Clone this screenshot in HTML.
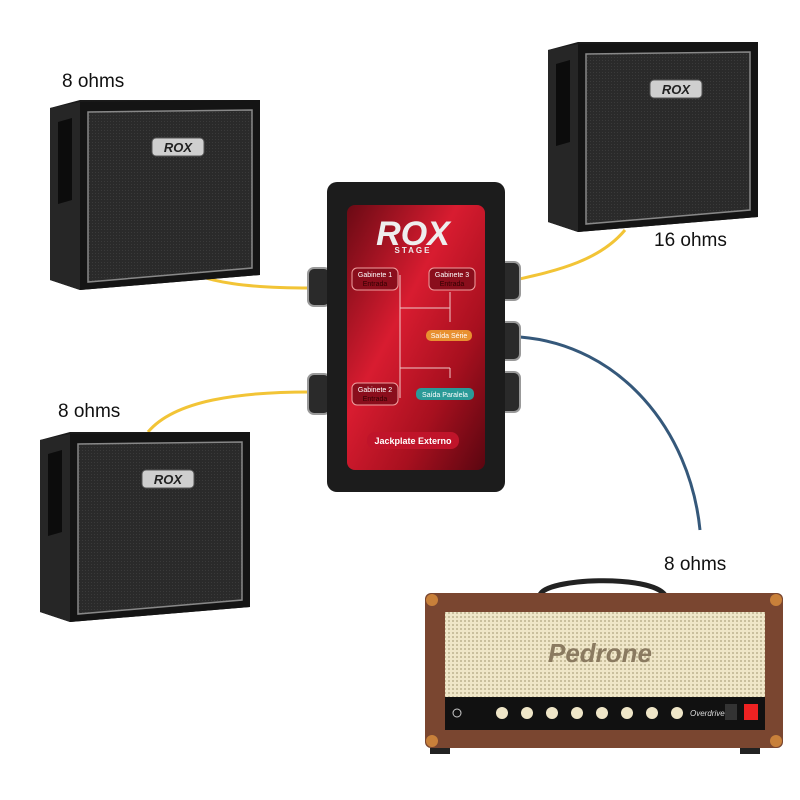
<!DOCTYPE html>
<html><head><style>
html,body{margin:0;padding:0;background:#fff;width:800px;height:800px;overflow:hidden}
text{font-family:"Liberation Sans",sans-serif}
</style></head><body>
<svg width="800" height="800" viewBox="0 0 800 800" xmlns="http://www.w3.org/2000/svg">
<defs>
<pattern id="grill" width="3" height="3" patternUnits="userSpaceOnUse"><rect width="3" height="3" fill="#2a2a2a"/><rect width="1" height="1" fill="#3a3a3a"/></pattern>
<pattern id="cane" width="4" height="4" patternUnits="userSpaceOnUse"><rect width="4" height="4" fill="#efe6c8"/><rect width="2" height="2" fill="#c9bf9d"/></pattern>
<linearGradient id="red" x1="0" y1="0" x2="1" y2="1"><stop offset="0" stop-color="#6a0a14"/><stop offset="0.4" stop-color="#d81c30"/><stop offset="0.7" stop-color="#a8101f"/><stop offset="1" stop-color="#5a0610"/></linearGradient>
<g id="cab">
<polygon points="0,8 30,0 210,0 210,175 30,190 0,180" fill="#1a1a1a"/>
<polygon points="0,8 30,2 30,190 0,180" fill="#262626"/>
<polygon points="8,22 22,18 22,100 8,104" fill="#0c0c0c"/>
<polygon points="30,2 210,0 210,175 30,190" fill="#141414"/>
<polygon points="38,12 202,10 202,168 38,182" fill="url(#grill)" stroke="#888" stroke-width="1.5"/>
<rect x="102" y="38" width="52" height="18" rx="4" fill="#cfcfcf" stroke="#555"/>
<text x="128" y="52" font-size="13" font-weight="bold" font-style="italic" fill="#222" text-anchor="middle">ROX</text>
</g>
</defs>
<!-- cables -->
<path d="M172,262 C200,285 260,288 310,288" stroke="#f2c436" stroke-width="3" fill="none"/>
<path d="M148,432 C175,400 240,392 310,392" stroke="#f2c436" stroke-width="3" fill="none"/>
<path d="M515,280 C560,270 600,260 625,230" stroke="#f2c436" stroke-width="3" fill="none"/>
<path d="M520,337 C620,345 690,430 700,530" stroke="#35587a" stroke-width="3" fill="none"/>
<!-- cabinets -->
<use href="#cab" x="50" y="100"/>
<use href="#cab" x="40" y="432"/>
<use href="#cab" x="548" y="42"/>
<!-- labels -->
<text x="62" y="87" font-size="19" fill="#111">8 ohms</text>
<text x="654" y="246" font-size="19" fill="#111">16 ohms</text>
<text x="58" y="417" font-size="19" fill="#111">8 ohms</text>
<text x="664" y="570" font-size="19" fill="#111">8 ohms</text>
<!-- jacks -->
<g fill="#2a2a2a" stroke="#999" stroke-width="2">
<rect x="308" y="268" width="22" height="38" rx="6"/>
<rect x="308" y="374" width="22" height="40" rx="6"/>
<rect x="498" y="262" width="22" height="38" rx="6"/>
<rect x="498" y="322" width="22" height="38" rx="6"/>
<rect x="498" y="372" width="22" height="40" rx="6"/>
</g>
<!-- box -->
<rect x="327" y="182" width="178" height="310" rx="10" fill="#1c1c1c"/>
<rect x="347" y="205" width="138" height="265" rx="8" fill="url(#red)"/>
<text x="413" y="245" font-size="34" font-weight="bold" font-style="italic" fill="#eee" text-anchor="middle">ROX</text>
<text x="413" y="253" font-size="8" font-weight="bold" fill="#eee" text-anchor="middle" letter-spacing="2">STAGE</text>
<g stroke="#f0c8c8" stroke-width="1" fill="none">
<line x1="400" y1="275" x2="400" y2="398"/><line x1="400" y1="308" x2="450" y2="308"/><line x1="400" y1="368" x2="450" y2="368"/><line x1="450" y1="292" x2="450" y2="322"/><line x1="450" y1="368" x2="450" y2="378"/>
</g>
<rect x="352" y="268" width="46" height="22" rx="5" fill="#8a0e1c" stroke="#f0a0a0"/>
<text x="375" y="277" font-size="7" fill="#fff" text-anchor="middle">Gabinete 1</text><text x="375" y="286" font-size="7" fill="#300" text-anchor="middle">Entrada</text>
<rect x="429" y="268" width="46" height="22" rx="5" fill="#8a0e1c" stroke="#f0a0a0"/>
<text x="452" y="277" font-size="7" fill="#fff" text-anchor="middle">Gabinete 3</text><text x="452" y="286" font-size="7" fill="#300" text-anchor="middle">Entrada</text>
<rect x="352" y="383" width="46" height="22" rx="5" fill="#8a0e1c" stroke="#f0a0a0"/>
<text x="375" y="392" font-size="7" fill="#fff" text-anchor="middle">Gabinete 2</text><text x="375" y="401" font-size="7" fill="#300" text-anchor="middle">Entrada</text>
<rect x="426" y="330" width="46" height="11" rx="5" fill="#e89030"/>
<text x="449" y="338" font-size="7" fill="#fff" text-anchor="middle">Saída Série</text>
<rect x="416" y="388" width="58" height="12" rx="5" fill="#2a9a98"/>
<text x="445" y="397" font-size="7" fill="#fff" text-anchor="middle">Saída Paralela</text>
<rect x="367" y="432" width="92" height="17" rx="8" fill="#c0142a"/>
<text x="413" y="444" font-size="9" font-weight="bold" fill="#fff" text-anchor="middle">Jackplate Externo</text>
<!-- amp -->
<path d="M540,595 C545,578 650,574 665,595" stroke="#222" stroke-width="5" fill="none"/>
<rect x="425" y="593" width="358" height="155" rx="6" fill="#7a4630"/>
<rect x="445" y="612" width="320" height="88" fill="url(#cane)"/>
<text x="600" y="662" font-size="26" font-style="italic" font-weight="bold" fill="#8a7a60" text-anchor="middle" font-family="Liberation Serif">Pedrone</text>
<rect x="445" y="697" width="320" height="33" fill="#111"/>
<g fill="#efe6c8"><circle cx="502" cy="713" r="6"/><circle cx="527" cy="713" r="6"/><circle cx="552" cy="713" r="6"/><circle cx="577" cy="713" r="6"/><circle cx="602" cy="713" r="6"/><circle cx="627" cy="713" r="6"/><circle cx="652" cy="713" r="6"/><circle cx="677" cy="713" r="6"/></g>
<circle cx="457" cy="713" r="4" fill="none" stroke="#ccc"/>
<text x="690" y="716" font-size="8" font-style="italic" fill="#ddd">Overdrive</text>
<rect x="725" y="704" width="12" height="16" fill="#333"/>
<rect x="744" y="704" width="14" height="16" fill="#e22"/>
<g fill="#c8803a"><circle cx="432" cy="600" r="6"/><circle cx="776" cy="600" r="6"/><circle cx="432" cy="741" r="6"/><circle cx="776" cy="741" r="6"/></g>
<rect x="430" y="748" width="20" height="6" fill="#222"/><rect x="740" y="748" width="20" height="6" fill="#222"/>
</svg>
</body></html>
